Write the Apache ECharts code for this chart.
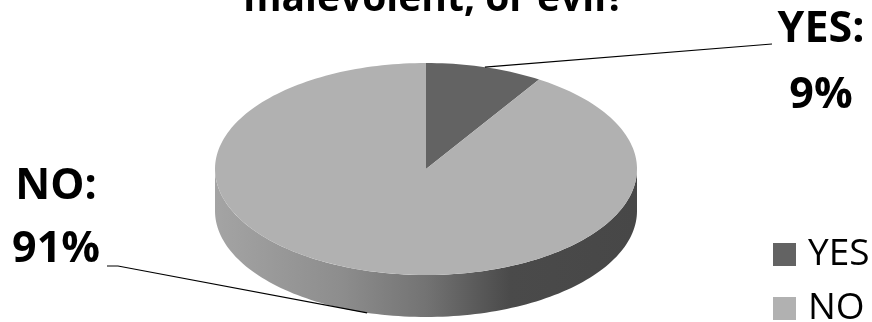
<!DOCTYPE html>
<html>
<head>
<meta charset="utf-8">
<script src="https://cdn.jsdelivr.net/npm/echarts@6/dist/echarts.min.js"></script>
<style>
  html, body { margin: 0; padding: 0; background: #fff; }
  #chart { width: 872px; height: 322px; }
</style>
</head>
<body>
<div id="chart"></div>
<script>
// Survey answers
const categories = ['YES', 'NO'];
const values = [9, 91];
const titleLine = 'malevolent, or evil?';

// Face colours of each slice
const sliceColors = ['#636363', '#b1b1b1'];

// Tilted-pie geometry (ellipse of the top face and wall height)
const CX = 426, CY = 169, RX = 211, RY = 106, DEPTH = 42;

// Where each slice's label sits and where its leader line ends
const labelLayout = {
  YES: { x: 821, y1: 30, y2: 96, lineEnd: [[772, 44]] },
  NO:  { x: 56,  y1: 187, y2: 250, lineEnd: [[118, 266], [107, 266]] }
};

const FONT = '"Open Sans", "Liberation Sans", sans-serif';
const total = values.reduce((a, b) => a + b, 0);

// point on the top ellipse at a clockwise angle from 12 o'clock, dropped by dy
function pt(deg, dy) {
  const r = deg * Math.PI / 180;
  return [CX + RX * Math.sin(r), CY - RY * Math.cos(r) + (dy || 0)];
}
function arc(a0, a1, dy) {
  const pts = [];
  const n = Math.max(2, Math.ceil(Math.abs(a1 - a0) / 1.5));
  for (let k = 0; k <= n; k++) pts.push(pt(a0 + (a1 - a0) * k / n, dy));
  return pts;
}

const wallGradient = {
  type: 'linear', x: CX - RX, y: 0, x2: CX + RX, y2: 0, global: true,
  colorStops: [
    { offset: 0, color: '#a4a4a4' },
    { offset: 0.3, color: '#8d8d8d' },
    { offset: 0.5, color: '#737373' },
    { offset: 0.62, color: '#5a5a5a' },
    { offset: 0.7, color: '#4a4a4a' },
    { offset: 1, color: '#474747' }
  ]
};

function makeSeries(idx) {
  return {
    type: 'custom',
    name: categories[idx],
    coordinateSystem: 'none',
    itemStyle: { color: sliceColors[idx] },
    data: [[values[idx]]],
    renderItem: function (params, api) {
      const v = api.value(0);
      let before = 0;
      for (let k = 0; k < idx; k++) before += values[k];
      const a0 = before / total * 360;
      const a1 = (before + v) / total * 360;
      const mid = (a0 + a1) / 2;
      const children = [];

      // outer wall on the front half (90..270 degrees)
      const w0 = Math.max(a0, 90), w1 = Math.min(a1, 270);
      if (w1 > w0) {
        const wall = arc(w0, w1, 0).concat(arc(w1, w0, DEPTH));
        children.push({ type: 'polygon', shape: { points: wall }, style: { fill: wallGradient } });
      }
      // top face
      const top = [[CX, CY]].concat(arc(a0, a1, 0));
      children.push({ type: 'polygon', shape: { points: top }, style: { fill: sliceColors[idx] } });

      // leader line and label
      const lay = labelLayout[categories[idx]];
      const front = mid > 90 && mid < 270;
      const anchor = pt(mid, front ? DEPTH : 0);
      children.push({
        type: 'polyline',
        shape: { points: [anchor].concat(lay.lineEnd) },
        style: { stroke: '#000', lineWidth: 1.2, fill: null }
      });
      const textStyle = { font: 'bold 43px ' + FONT, fill: '#000', align: 'center', verticalAlign: 'middle' };
      children.push({ type: 'text', x: lay.x, y: lay.y1, style: Object.assign({ text: categories[idx] + ':' }, textStyle) });
      children.push({ type: 'text', x: lay.x, y: lay.y2, style: Object.assign({ text: v + '%' }, textStyle) });

      return { type: 'group', children: children };
    }
  };
}

const chart = echarts.init(document.getElementById('chart'), null, { renderer: 'canvas' });
chart.setOption({
  animation: false,
  backgroundColor: '#fff',
  graphic: [{
    type: 'text', x: 434, y: 19,
    style: { text: titleLine, font: 'bold 39px ' + FONT, fill: '#000', align: 'center', verticalAlign: 'bottom' }
  }],
  legend: {
    orient: 'vertical',
    left: 773, top: 236,
    width: 99, height: 100,
    padding: 0,
    icon: 'rect',
    itemWidth: 23, itemHeight: 23, itemGap: 17,
    selectedMode: false,
    data: categories,
    textStyle: { fontFamily: FONT, fontSize: 37, color: '#000', padding: [0, 0, 0, 7] }
  },
  series: categories.map((c, i) => makeSeries(i))
});
</script>
</body>
</html>
